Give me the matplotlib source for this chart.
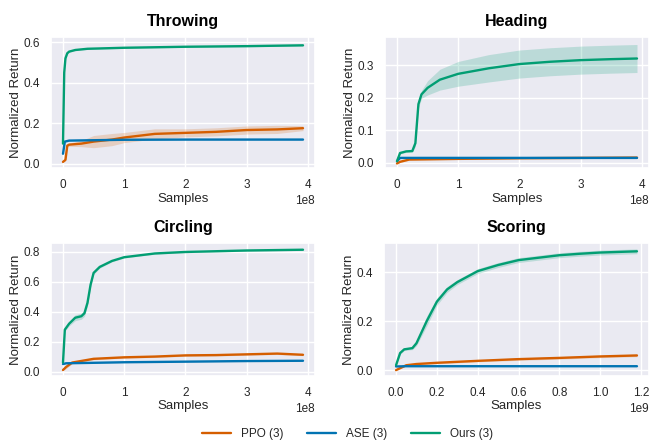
import numpy as np
import matplotlib
matplotlib.use("Agg")
import matplotlib.pyplot as plt
import seaborn as sns

sns.set_theme(style="darkgrid")
plt.rcParams['font.family'] = ['Liberation Sans', 'DejaVu Sans']

C_PPO = "#d55e00"
C_ASE = "#0173b2"
C_OURS = "#029e73"

# ---- Throwing (x in 1e8) ----
thr_ours_x = [0, 0.02, 0.04, 0.07, 0.1, 0.2, 0.4, 1.0, 2.0, 3.0, 3.92]
thr_ours_y = [0.10, 0.45, 0.52, 0.545, 0.553, 0.561, 0.567, 0.572, 0.577, 0.580, 0.584]
thr_ours_s = [0.0, 0.01, 0.005, 0.004, 0.003, 0.003, 0.003, 0.003, 0.003, 0.003, 0.003]
thr_ase_x = [0, 0.03, 0.1, 1.0, 2.0, 3.0, 3.92]
thr_ase_y = [0.05, 0.11, 0.115, 0.119, 0.12, 0.12, 0.12]
thr_ase_s = [0.0, 0.003, 0.003, 0.003, 0.003, 0.003, 0.003]
thr_ppo_x = [0, 0.04, 0.07, 0.1, 0.3, 0.5, 0.8, 1.0, 1.5, 2.0, 2.5, 3.0, 3.5, 3.92]
thr_ppo_y = [0.01, 0.02, 0.09, 0.095, 0.10, 0.11, 0.12, 0.13, 0.148, 0.153, 0.158, 0.167, 0.170, 0.176]
thr_ppo_s = [0.0, 0.003, 0.005, 0.008, 0.015, 0.03, 0.03, 0.025, 0.025, 0.02, 0.02, 0.02, 0.02, 0.012]

# ---- Heading (x in 1e8) ----
hea_ours_x = [0, 0.05, 0.15, 0.25, 0.3, 0.35, 0.4, 0.5, 0.7, 1.0, 1.5, 2.0, 2.5, 3.0, 3.5, 3.92]
hea_ours_y = [0.005, 0.03, 0.035, 0.036, 0.06, 0.18, 0.21, 0.23, 0.255, 0.273, 0.29, 0.303, 0.31, 0.315, 0.318, 0.32]
hea_ours_s = [0.0, 0.003, 0.003, 0.003, 0.01, 0.012, 0.012, 0.022, 0.032, 0.038, 0.042, 0.043, 0.043, 0.043, 0.043, 0.043]
hea_ase_x = [0, 0.05, 0.5, 1.0, 2.0, 3.0, 3.92]
hea_ase_y = [0.005, 0.015, 0.015, 0.015, 0.015, 0.015, 0.015]
hea_ase_s = [0.0, 0.002, 0.002, 0.002, 0.002, 0.002, 0.002]
hea_ppo_x = [0, 0.05, 0.2, 1.0, 2.0, 3.0, 3.92]
hea_ppo_y = [-0.002, 0.003, 0.01, 0.012, 0.014, 0.015, 0.016]
hea_ppo_s = [0.0, 0.002, 0.002, 0.002, 0.002, 0.002, 0.002]

# ---- Circling (x in 1e8) ----
cir_ours_x = [0, 0.03, 0.1, 0.2, 0.3, 0.35, 0.4, 0.45, 0.5, 0.6, 0.8, 1.0, 1.5, 2.0, 3.0, 3.92]
cir_ours_y = [0.06, 0.28, 0.32, 0.36, 0.37, 0.39, 0.46, 0.58, 0.66, 0.70, 0.74, 0.765, 0.79, 0.80, 0.81, 0.815]
cir_ours_s = [0.0, 0.01, 0.015, 0.02, 0.02, 0.02, 0.02, 0.015, 0.01, 0.008, 0.006, 0.005, 0.005, 0.005, 0.005, 0.005]
cir_ase_x = [0, 0.05, 1.0, 2.0, 3.0, 3.92]
cir_ase_y = [0.05, 0.055, 0.062, 0.066, 0.07, 0.072]
cir_ase_s = [0.0, 0.002, 0.002, 0.002, 0.002, 0.002]
cir_ppo_x = [0, 0.05, 0.15, 0.5, 1.0, 1.5, 2.0, 2.5, 3.0, 3.5, 3.92]
cir_ppo_y = [0.01, 0.03, 0.06, 0.085, 0.095, 0.10, 0.108, 0.11, 0.115, 0.12, 0.112]
cir_ppo_s = [0.0, 0.01, 0.008, 0.006, 0.006, 0.006, 0.006, 0.006, 0.006, 0.006, 0.006]

# ---- Scoring (x in 1e9) ----
sco_ours_x = [0, 0.02, 0.04, 0.08, 0.1, 0.15, 0.2, 0.25, 0.3, 0.4, 0.5, 0.6, 0.7, 0.8, 0.9, 1.0, 1.18]
sco_ours_y = [0.02, 0.07, 0.085, 0.09, 0.11, 0.20, 0.28, 0.33, 0.36, 0.405, 0.43, 0.45, 0.46, 0.47, 0.476, 0.481, 0.486]
sco_ours_s = [0.0, 0.005, 0.005, 0.006, 0.01, 0.02, 0.015, 0.012, 0.01, 0.01, 0.01, 0.01, 0.01, 0.01, 0.01, 0.01, 0.01]
sco_ase_x = [0, 0.05, 0.5, 1.0, 1.18]
sco_ase_y = [0.015, 0.016, 0.016, 0.016, 0.016]
sco_ase_s = [0.0, 0.001, 0.001, 0.001, 0.001]
sco_ppo_x = [0, 0.05, 0.1, 0.2, 0.4, 0.6, 0.8, 1.0, 1.18]
sco_ppo_y = [0.0, 0.02, 0.025, 0.03, 0.038, 0.045, 0.05, 0.056, 0.06]
sco_ppo_s = [0.0, 0.003, 0.003, 0.004, 0.004, 0.005, 0.005, 0.005, 0.005]

panels = [
    ("Throwing", 1e8, [(thr_ppo_x, thr_ppo_y, thr_ppo_s), (thr_ase_x, thr_ase_y, thr_ase_s), (thr_ours_x, thr_ours_y, thr_ours_s)], (-0.02, 0.625), [0, 0.2, 0.4, 0.6]),
    ("Heading", 1e8, [(hea_ppo_x, hea_ppo_y, hea_ppo_s), (hea_ase_x, hea_ase_y, hea_ase_s), (hea_ours_x, hea_ours_y, hea_ours_s)], (-0.016, 0.386), [0, 0.1, 0.2, 0.3]),
    ("Circling", 1e8, [(cir_ppo_x, cir_ppo_y, cir_ppo_s), (cir_ase_x, cir_ase_y, cir_ase_s), (cir_ours_x, cir_ours_y, cir_ours_s)], (-0.03, 0.86), [0, 0.2, 0.4, 0.6, 0.8]),
    ("Scoring", 1e9, [(sco_ppo_x, sco_ppo_y, sco_ppo_s), (sco_ase_x, sco_ase_y, sco_ase_s), (sco_ours_x, sco_ours_y, sco_ours_s)], (-0.024, 0.52), [0, 0.2, 0.4]),
]
labels = ["PPO (3)", "ASE (3)", "Ours (3)"]
colors = [C_PPO, C_ASE, C_OURS]

fig = plt.figure(figsize=(6.49, 4.45), dpi=100)
W, H = 649, 445
boxes = [(51, 37, 315, 168), (385, 37, 649, 168), (51, 243, 315, 376), (384, 243, 649, 376)]

for (title, scale, series, ylim, yt), (x0, y0, x1, y1) in zip(panels, boxes):
    ax = fig.add_axes([x0 / W, 1 - y1 / H, (x1 - x0) / W, (y1 - y0) / H])
    for (x, y, s), c, lab in zip(series, colors, labels):
        x = np.array(x) * scale
        y = np.array(y)
        s = np.array(s)
        ax.fill_between(x, y - s, y + s, color=c, alpha=0.2, lw=0)
        ax.plot(x, y, color=c, lw=1.7, label=lab)
    ax.set_ylim(*ylim)
    ax.set_yticks(yt)
    ax.set_title(title, fontsize=11.5, fontweight="bold", pad=8, color="black")
    ax.set_xlabel("Samples", fontsize=9.5, labelpad=1)
    ax.set_ylabel("Normalized Return", fontsize=9.5, labelpad=1)
    ax.tick_params(labelsize=8.5, pad=2)
    ax.xaxis.get_offset_text().set_fontsize(8.5)

handles, labs = ax.get_legend_handles_labels()
fig.legend(handles, labs, loc="center", bbox_to_anchor=(0.535, 0.025), ncol=3,
           frameon=False, fontsize=8.5, handlelength=2.5, columnspacing=2.0)

fig.savefig("out.png", dpi=100)
